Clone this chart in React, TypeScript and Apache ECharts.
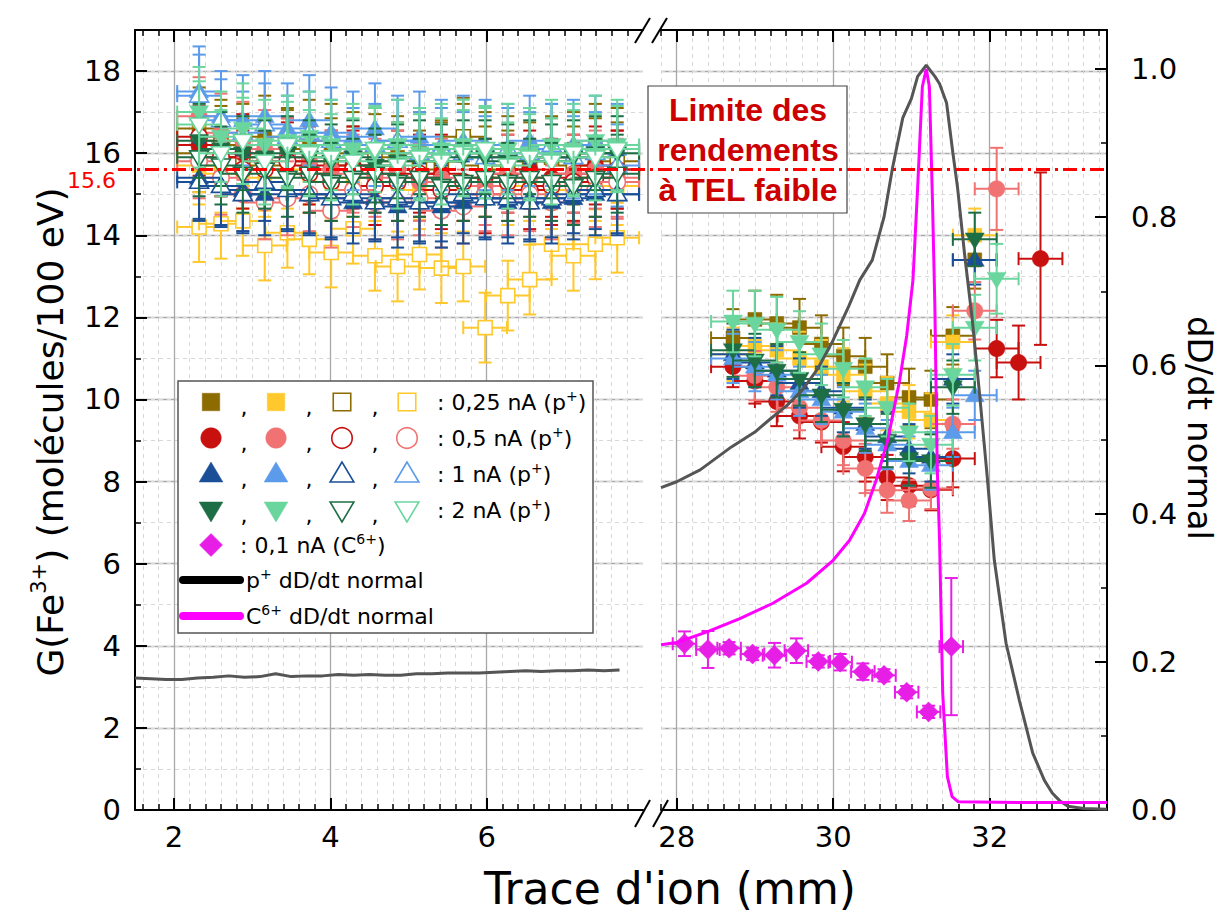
import React, { useEffect, useRef } from 'react';
import * as echarts from 'echarts';

const FONT = 'DejaVu Sans';

// ---------- x positions ----------
const xsL = [2.32, 2.60, 2.88, 3.16, 3.45, 3.73, 4.01, 4.29, 4.57, 4.86, 5.14, 5.42, 5.70, 5.98, 6.27, 6.55, 6.83, 7.11, 7.39, 7.67];
const xsR = [28.72, 29.00, 29.28, 29.57, 29.85, 30.13, 30.41, 30.69, 30.97, 31.25, 31.53, 31.81, 32.09, 32.37, 32.65];

// ---------- left panel G(Fe3+) ----------
const gL_olive_f = [16.6, 16.3, 16.2, 16.4, 16.1, 16.3, 16.2, 16.0, 16.1, 15.9, 16.0, 15.8, 16.2, 16.0, 15.9, 16.1, 15.9, 16.0, 16.2, 16.1];
const gL_yellow_f = [15.7, 15.5, 15.6, 15.4, 15.6, 15.5, 15.3, 15.4, 15.2, 15.3, 15.1, 15.2, 15.3, 15.4, 15.2, 15.3, 15.1, 15.2, 15.3, 15.2];
const gL_olive_o = [16.0, 16.2, 15.9, 15.7, 16.1, 15.8, 15.9, 15.7, 16.0, 15.8, 15.6, 15.8, 16.4, 15.7, 15.6, 15.8, 15.9, 15.7, 15.9, 15.8];
const gL_yellow_o = [14.2, 14.28, 14.35, 13.75, 14.06, 13.9, 13.58, 14.16, 13.5, 13.24, 13.53, 13.2, 13.24, 11.75, 12.53, 12.92, 13.78, 13.5, 13.78, 13.94];
const gL_red_f = [16.2, 15.9, 16.0, 15.8, 15.9, 15.7, 15.6, 15.7, 15.5, 15.6, 15.4, 15.5, 15.3, 15.4, 15.5, 15.6, 15.4, 15.5, 15.7, 15.6];
const gL_salmon_f = [16.9, 16.5, 16.3, 16.1, 15.9, 15.8, 15.6, 15.5, 15.4, 15.6, 15.3, 15.4, 15.3, 15.2, 15.5, 15.4, 15.3, 15.5, 15.6, 15.4];
const gL_red_o = [16.4, 15.9, 15.6, 15.6, 15.8, 15.5, 15.3, 15.6, 15.2, 15.3, 15.5, 15.1, 15.3, 15.0, 15.3, 15.1, 15.2, 15.3, 15.4, 15.6];
const gL_salmon_o = [15.8, 15.4, 15.0, 14.8, 14.9, 15.0, 14.6, 15.1, 14.8, 14.8, 14.9, 14.6, 14.7, 15.0, 14.9, 15.0, 14.8, 15.2, 15.1, 15.3];
const gL_blue_f = [15.4, 15.2, 15.1, 15.0, 15.1, 15.0, 14.9, 14.8, 14.9, 14.7, 14.8, 14.7, 14.8, 14.9, 14.8, 14.9, 14.8, 14.9, 15.0, 15.0];
const gL_lblue_f = [17.5, 16.9, 16.8, 16.9, 16.6, 16.8, 16.5, 16.4, 16.6, 16.3, 16.4, 16.2, 16.3, 16.2, 16.1, 16.3, 16.1, 16.2, 16.3, 16.1];
const gL_blue_o = [15.3, 15.2, 15.0, 15.3, 15.1, 15.0, 14.9, 15.0, 14.8, 14.9, 14.8, 14.8, 15.0, 14.9, 14.9, 14.8, 14.9, 15.0, 15.1, 15.0];
const gL_lblue_o = [17.4, 16.8, 16.5, 16.7, 16.4, 16.5, 16.3, 16.1, 16.2, 16.3, 16.0, 16.1, 16.0, 15.9, 16.1, 16.0, 16.2, 15.9, 16.0, 15.7];
const gL_green_f = [16.3, 16.1, 16.0, 15.9, 16.0, 15.9, 15.8, 15.9, 15.7, 15.8, 15.9, 15.8, 15.9, 15.9, 15.8, 15.9, 15.8, 15.9, 16.0, 16.0];
const gL_lgreen_f = [17.0, 16.4, 16.6, 16.2, 16.3, 16.4, 16.2, 16.1, 16.0, 16.2, 16.0, 16.1, 16.2, 16.0, 16.1, 16.0, 16.2, 16.1, 16.3, 16.2];
const gL_green_o = [15.9, 15.7, 15.5, 15.6, 15.4, 15.5, 15.3, 15.4, 15.5, 15.3, 15.4, 15.2, 15.3, 15.4, 15.3, 15.4, 15.3, 15.2, 15.4, 15.5];
const gL_lgreen_o = [16.7, 16.0, 16.3, 15.8, 16.2, 16.0, 15.9, 15.8, 16.1, 15.7, 15.9, 15.8, 16.0, 16.1, 15.7, 15.9, 15.8, 16.0, 15.9, 16.1];

// ---------- right panel G(Fe3+) ----------
const gR_olive_f = [11.5, 11.95, 11.85, 11.75, 11.35, 11.05, 10.8, 10.4, 10.05, 10.0, 11.55, 13.4, null, null, null];
const gR_yellow_f = [11.1, 11.3, 11.2, 11.0, 10.8, 10.6, 10.2, 9.9, 9.7, 9.5, 11.4, 14.0, null, null, null];
const gR_red_f = [10.8, 10.45, 9.95, 9.6, 9.45, 8.85, 8.6, 8.1, 7.9, 7.8, 8.56, null, 11.24, 10.9, 13.43];
const gR_salmon_f = [null, 10.58, 10.3, 9.8, 9.49, 9.0, 8.32, 7.79, 7.54, 7.83, 9.4, 12.16, 15.13, null, null];
const gR_blue_f = [11.1, 10.9, 10.7, 10.4, 10.2, 9.8, 9.4, 9.1, 8.8, 8.6, 10.5, 13.4, null, null, null];
const gR_lblue_f = [11.0, 10.8, 10.6, 10.2, 10.0, 9.7, 9.3, 8.9, 8.5, 8.4, 9.2, 10.1, null, null, null];
const gR_green_f = [11.2, 10.95, 10.7, 10.5, 10.1, 9.75, 9.4, 9.0, 8.55, 8.5, 10.3, 13.9, null, null, null];
const gR_lgreen_f = [11.9, 11.85, 11.7, 11.4, 11.1, 10.75, 10.3, 9.8, 9.2, 8.9, 10.6, 11.75, 12.94, null, null];
const eR_red = [0.5, 0.55, 0.6, 0.55, 0.5, 0.6, 0.6, 0.55, 0.5, 0.5, 0.7, 0, 0.7, 0.9, 2.1];
const eR_salmon = [0, 0.6, 0.6, 0.55, 0.5, 0.6, 0.6, 0.55, 0.5, 0.5, 0.6, 0.7, 1.0, 0, 0];
const eR_lgreen = [0.75, 0.8, 0.8, 0.75, 0.75, 0.7, 0.7, 0.7, 0.7, 0.7, 0.75, 0.8, 0.85, 0, 0];

// ---------- C6+ 0,1 nA ----------
const xsC = [28.10, 28.40, 28.67, 28.97, 29.25, 29.53, 29.81, 30.09, 30.38, 30.65, 30.94, 31.22, 31.51];
const gC = [4.05, 3.91, 3.94, 3.80, 3.77, 3.88, 3.62, 3.60, 3.37, 3.28, 2.87, 2.39, 3.98];
const eC = [0.3, 0.45, 0.15, 0.15, 0.3, 0.3, 0.15, 0.2, 0.2, 0.15, 0.15, 0.15, 1.67];

// ---------- dD/dt curves ----------
const pxL = [1.5, 1.7, 1.9, 2.1, 2.3, 2.5, 2.7, 2.9, 3.1, 3.3, 3.5, 3.7, 3.9, 4.1, 4.3, 4.5, 4.7, 4.9, 5.1, 5.3, 5.5, 5.7, 5.9, 6.1, 6.3, 6.5, 6.7, 6.9, 7.1, 7.3, 7.5, 7.7];
const pyL = [0.178, 0.177, 0.176, 0.176, 0.178, 0.179, 0.181, 0.179, 0.180, 0.184, 0.180, 0.181, 0.181, 0.183, 0.182, 0.183, 0.182, 0.182, 0.184, 0.184, 0.185, 0.185, 0.185, 0.186, 0.187, 0.188, 0.187, 0.188, 0.188, 0.189, 0.188, 0.189];
const pxR = [27.8, 28.0, 28.3, 28.7, 29.0, 29.2, 29.4, 29.6, 29.8, 30.0, 30.2, 30.34, 30.5, 30.65, 30.76, 30.89, 31.0, 31.08, 31.19, 31.3, 31.36, 31.45, 31.53, 31.59, 31.68, 31.78, 31.87, 31.97, 32.06, 32.21, 32.38, 32.55, 32.7, 32.8, 32.9, 33.0, 33.2, 33.5];
const pyR = [0.435, 0.443, 0.459, 0.49, 0.51, 0.528, 0.545, 0.566, 0.595, 0.634, 0.68, 0.715, 0.742, 0.80, 0.867, 0.934, 0.96, 0.99, 1.005, 0.99, 0.98, 0.954, 0.887, 0.84, 0.75, 0.66, 0.563, 0.449, 0.337, 0.225, 0.148, 0.077, 0.04, 0.023, 0.012, 0.005, 0.002, 0.001];
const cxR = [27.8, 28.0, 28.38, 28.8, 29.23, 29.66, 30.0, 30.21, 30.4, 30.55, 30.7, 30.85, 30.94, 31.02, 31.08, 31.14, 31.19, 31.23, 31.27, 31.3, 31.33, 31.36, 31.4, 31.46, 31.52, 31.6, 32.5, 33.5];
const cyR = [0.223, 0.226, 0.24, 0.258, 0.279, 0.306, 0.337, 0.364, 0.40, 0.445, 0.50, 0.58, 0.64, 0.715, 0.84, 0.976, 1.0, 0.976, 0.82, 0.68, 0.463, 0.364, 0.158, 0.045, 0.018, 0.011, 0.01, 0.01];

const LIMIT = 15.6;
const xTicksL = [2, 4, 6];
const xTicksR = [28, 30, 32];

// ---------- colours ----------
const OLIVE = '#8c6b00';
const YELLOW = '#ffc82c';
const RED = '#c8100f';
const SALMON = '#f07272';
const BLUE = '#1a4f98';
const LBLUE = '#5b9bea';
const GREEN = '#1e6e45';
const LGREEN = '#6ad69e';
const MAGENTA = '#e61ee6';

type Spec = { color: string; shape: string; filled: boolean; L: number[]; eL: number; R?: (number | null)[]; eR?: number | number[] };
const specs: Spec[] = [
  { color: OLIVE, shape: 'square', filled: true, L: gL_olive_f, eL: 1.0, R: gR_olive_f, eR: 0.7 },
  { color: YELLOW, shape: 'square', filled: true, L: gL_yellow_f, eL: 0.95, R: gR_yellow_f, eR: 0.65 },
  { color: OLIVE, shape: 'square', filled: false, L: gL_olive_o, eL: 0.95 },
  { color: YELLOW, shape: 'square', filled: false, L: gL_yellow_o, eL: 0.85 },
  { color: RED, shape: 'circle', filled: true, L: gL_red_f, eL: 0.95, R: gR_red_f, eR: eR_red },
  { color: SALMON, shape: 'circle', filled: true, L: gL_salmon_f, eL: 0.95, R: gR_salmon_f, eR: eR_salmon },
  { color: RED, shape: 'circle', filled: false, L: gL_red_o, eL: 0.95 },
  { color: SALMON, shape: 'circle', filled: false, L: gL_salmon_o, eL: 0.9 },
  { color: BLUE, shape: 'tri', filled: true, L: gL_blue_f, eL: 1.0, R: gR_blue_f, eR: 0.6 },
  { color: LBLUE, shape: 'tri', filled: true, L: gL_lblue_f, eL: 1.1, R: gR_lblue_f, eR: 0.6 },
  { color: BLUE, shape: 'tri', filled: false, L: gL_blue_o, eL: 0.95 },
  { color: LBLUE, shape: 'tri', filled: false, L: gL_lblue_o, eL: 1.0 },
  { color: GREEN, shape: 'dtri', filled: true, L: gL_green_f, eL: 0.9, R: gR_green_f, eR: 0.65 },
  { color: LGREEN, shape: 'dtri', filled: true, L: gL_lgreen_f, eL: 1.1, R: gR_lgreen_f, eR: eR_lgreen },
  { color: GREEN, shape: 'dtri', filled: false, L: gL_green_o, eL: 0.95 },
  { color: LGREEN, shape: 'dtri', filled: false, L: gL_lgreen_o, eL: 1.05 },
];

// minor tick positions (every 0.2 mm) for each broken-axis segment
function stepValues(from: number, to: number, step: number) {
  const out: number[] = [];
  for (let v = from; v <= to + 1e-9; v += step) out.push(Math.round(v * 100) / 100);
  return out;
}
const minorL = stepValues(1.6, 7.8, 0.2);
const minorR = stepValues(27.8, 33.4, 0.2);

function marker(shape: string, cx: number, cy: number, color: string, filled: boolean, k = 1, z?: number): any {
  const style: any = { fill: filled ? color : '#ffffff', stroke: color, lineWidth: filled ? 0.5 : 1.6 };
  let el: any;
  if (shape === 'square') {
    const s = 14 * k;
    el = { type: 'rect', shape: { x: cx - s / 2, y: cy - s / 2, width: s, height: s }, style };
  } else if (shape === 'circle') {
    el = { type: 'circle', shape: { cx, cy, r: 8.2 * k }, style };
  } else if (shape === 'tri') {
    const w = 19 * k, h = 16 * k;
    el = { type: 'polygon', shape: { points: [[cx, cy - h * 0.6], [cx - w / 2, cy + h * 0.4], [cx + w / 2, cy + h * 0.4]] }, style };
  } else if (shape === 'dtri') {
    const w = 19 * k, h = 16 * k;
    el = { type: 'polygon', shape: { points: [[cx, cy + h * 0.6], [cx - w / 2, cy - h * 0.4], [cx + w / 2, cy - h * 0.4]] }, style };
  } else {
    const d = 10 * k;
    el = { type: 'polygon', shape: { points: [[cx, cy - d], [cx + d, cy], [cx, cy + d], [cx - d, cy]] }, style };
  }
  if (z !== undefined) el.z = z;
  return el;
}

function makeRender(shape: string, color: string, filled: boolean) {
  return (_params: any, api: any) => {
    const x = api.value(0), y = api.value(1), ey = api.value(2), ex = api.value(3);
    const c = api.coord([x, y]);
    const t = api.coord([x, y + ey]);
    const b = api.coord([x, y - ey]);
    const l = api.coord([x - ex, y]);
    const r = api.coord([x + ex, y]);
    const cw = 6.5;
    const st = { stroke: color, lineWidth: 2, fill: null };
    const ln = (x1: number, y1: number, x2: number, y2: number) => ({ type: 'line', shape: { x1, y1, x2, y2 }, style: st });
    const children: any[] = [];
    if (ey > 0) {
      children.push(ln(c[0], t[1], c[0], b[1]), ln(c[0] - cw, t[1], c[0] + cw, t[1]), ln(c[0] - cw, b[1], c[0] + cw, b[1]));
    }
    if (ex > 0) {
      children.push(ln(l[0], c[1], r[0], c[1]), ln(l[0], c[1] - cw, l[0], c[1] + cw), ln(r[0], c[1] - cw, r[0], c[1] + cw));
    }
    children.push(marker(shape, c[0], c[1], color, filled, 1));
    return { type: 'group', children };
  };
}

const AXC = '#000';
const MAJ = { color: '#a8a8a8', width: 1.3 };
const MIN = { color: '#d8d8d8', width: 1, type: [4, 4] as any };
const TICKFONT = 29;

function xAxesFor(grid: number, min: number, max: number, majors: number[], minors: number[]) {
  const base = { gridIndex: grid, type: 'value', min, max };
  return [
    {
      ...base, position: 'bottom',
      axisLine: { show: true, onZero: false, lineStyle: { color: AXC, width: 2 } },
      axisTick: { show: true, inside: true, length: 6, customValues: minors, lineStyle: { color: AXC, width: 1.5 } },
      axisLabel: { show: true, customValues: majors, fontSize: TICKFONT, color: '#000', fontFamily: FONT, margin: 12, formatter: (v: number) => String(Math.round(v)) },
      splitLine: { show: true, lineStyle: MIN },
    },
    {
      ...base, position: 'bottom',
      axisLine: { show: false, onZero: false },
      axisTick: { show: true, inside: true, length: 12, customValues: majors, lineStyle: { color: AXC, width: 2 } },
      axisLabel: { show: false },
      splitLine: { show: true, lineStyle: MAJ },
    },
    {
      ...base, position: 'top',
      axisLine: { show: true, onZero: false, lineStyle: { color: AXC, width: 2 } },
      axisTick: { show: true, inside: true, length: 6, customValues: minors, lineStyle: { color: AXC, width: 1.5 } },
      axisLabel: { show: false }, splitLine: { show: false },
    },
    {
      ...base, position: 'top',
      axisLine: { show: false, onZero: false },
      axisTick: { show: true, inside: true, length: 12, customValues: majors, lineStyle: { color: AXC, width: 2 } },
      axisLabel: { show: false }, splitLine: { show: false },
    },
  ];
}

const yAxes: any[] = [
  // 0: G major, left grid
  {
    gridIndex: 0, type: 'value', min: 0, max: 19, interval: 2, position: 'left',
    axisLine: { show: true, onZero: false, lineStyle: { color: AXC, width: 2 } },
    axisTick: { show: true, inside: true, length: 12, lineStyle: { color: AXC, width: 2 } },
    axisLabel: { show: true, fontSize: TICKFONT, color: '#000', fontFamily: FONT, margin: 14, formatter: (v: number) => (v <= 18 && v % 2 === 0 ? String(v) : '') },
    splitLine: { show: true, showMinLine: false, showMaxLine: false, lineStyle: MAJ },
  },
  // 1: G minor, left grid
  {
    gridIndex: 0, type: 'value', min: 0, max: 19, interval: 1, position: 'left',
    axisLine: { show: false, onZero: false },
    axisTick: { show: true, inside: true, length: 6, lineStyle: { color: AXC, width: 1.5 } },
    axisLabel: { show: false },
    splitLine: { show: true, showMinLine: false, showMaxLine: false, lineStyle: MIN },
  },
  // 2: dD/dt hidden, left grid
  { gridIndex: 0, type: 'value', min: 0, max: 1.0526, show: false, splitLine: { show: false } },
  // 3: G major, right grid (grid lines only)
  {
    gridIndex: 1, type: 'value', min: 0, max: 19, interval: 2, position: 'left',
    axisLine: { show: false, onZero: false }, axisTick: { show: false }, axisLabel: { show: false },
    splitLine: { show: true, showMinLine: false, showMaxLine: false, lineStyle: MAJ },
  },
  // 4: G minor, right grid
  {
    gridIndex: 1, type: 'value', min: 0, max: 19, interval: 1, position: 'left',
    axisLine: { show: false, onZero: false }, axisTick: { show: false }, axisLabel: { show: false },
    splitLine: { show: true, showMinLine: false, showMaxLine: false, lineStyle: MIN },
  },
  // 5: dD/dt major, right
  {
    gridIndex: 1, type: 'value', min: 0, max: 1.0526, interval: 0.2, position: 'right',
    axisLine: { show: true, onZero: false, lineStyle: { color: AXC, width: 2 } },
    axisTick: { show: true, inside: true, length: 12, lineStyle: { color: AXC, width: 2 } },
    axisLabel: {
      show: true, fontSize: TICKFONT, color: '#000', fontFamily: FONT, margin: 24,
      formatter: (v: number) => (Math.abs(v * 5 - Math.round(v * 5)) < 1e-6 && v < 1.01 ? v.toFixed(1) : ''),
    },
    splitLine: { show: false },
  },
  // 6: dD/dt minor, right
  {
    gridIndex: 1, type: 'value', min: 0, max: 1.0526, interval: 0.1, position: 'right',
    axisLine: { show: false, onZero: false },
    axisTick: { show: true, inside: true, length: 6, lineStyle: { color: AXC, width: 1.5 } },
    axisLabel: { show: false }, splitLine: { show: false },
  },
];

function buildSeries() {
  const series: any[] = [];
  specs.forEach((s) => {
    series.push({
      type: 'custom', xAxisIndex: 0, yAxisIndex: 0, z: 2, silent: true,
      renderItem: makeRender(s.shape, s.color, s.filled),
      encode: { x: 0, y: 1 },
      data: xsL.map((x, i) => [x, s.L[i], s.eL, 0.28]),
    });
    if (s.R) {
      const data: number[][] = [];
      s.R.forEach((v, i) => {
        if (v === null) return;
        const e = typeof s.eR === 'number' ? s.eR : (s.eR as number[])[i];
        data.push([xsR[i], v, e, 0.28]);
      });
      series.push({
        type: 'custom', xAxisIndex: 4, yAxisIndex: 3, z: 2, silent: true,
        renderItem: makeRender(s.shape, s.color, s.filled),
        encode: { x: 0, y: 1 }, data,
      });
    }
  });
  series.push({
    type: 'custom', xAxisIndex: 4, yAxisIndex: 3, z: 2, silent: true,
    renderItem: makeRender('diamond', MAGENTA, true),
    encode: { x: 0, y: 1 },
    data: xsC.map((x, i) => [x, gC[i], eC[i], 0.15]),
  });
  series.push({
    type: 'line', xAxisIndex: 0, yAxisIndex: 2, z: 3, showSymbol: false, silent: true,
    lineStyle: { color: '#555555', width: 3 },
    data: pxL.map((x, i) => [x, pyL[i]]),
  });
  series.push({
    type: 'line', xAxisIndex: 4, yAxisIndex: 5, z: 3, showSymbol: false, silent: true,
    lineStyle: { color: '#555555', width: 3 },
    data: pxR.map((x, i) => [x, pyR[i]]),
  });
  series.push({
    type: 'line', xAxisIndex: 4, yAxisIndex: 5, z: 4, showSymbol: false, silent: true,
    lineStyle: { color: '#ff00ff', width: 3 },
    data: cxR.map((x, i) => [x, cyR[i]]),
  });
  return series;
}

function richText(size: number, supSize: number, color: string) {
  return {
    a: { fontSize: size, fontFamily: FONT, fill: color, lineHeight: size * 1.2 },
    s: { fontSize: supSize, fontFamily: FONT, fill: color, lineHeight: supSize * 1.1, verticalAlign: 'top' },
  };
}

function buildGraphics(redY: number, redX1: number) {
  const g: any[] = [];
  // axis titles
  g.push({
    type: 'text', x: 50, y: 432, rotation: Math.PI / 2, z: 120,
    style: { text: '{a|G(Fe}{s|3+}{a|) (molécules/100 eV)}', rich: richText(36, 21, '#000'), align: 'center', verticalAlign: 'middle' },
  });
  g.push({
    type: 'text', x: 1200, y: 428, rotation: -Math.PI / 2, z: 120,
    style: { text: 'dD/dt normal', fontSize: 34, fontFamily: FONT, fill: '#000', align: 'center', verticalAlign: 'middle' },
  });
  g.push({
    type: 'text', x: 670, y: 888, z: 120,
    style: { text: "Trace d'ion (mm)", fontSize: 44, fontFamily: FONT, fill: '#000', align: 'center', verticalAlign: 'middle' },
  });
  // break marks
  const brk = [[635, 43, 650, 18], [652, 43, 667, 18], [635, 827, 650, 800], [653, 827, 668, 800]];
  brk.forEach((b) => g.push({ type: 'line', z: 120, shape: { x1: b[0], y1: b[1], x2: b[2], y2: b[3] }, style: { stroke: '#000', lineWidth: 2 } }));
  // annotation box
  g.push({ type: 'rect', z: 40, shape: { x: 648, y: 86, width: 199, height: 127 }, style: { fill: '#fff', stroke: '#444', lineWidth: 1.2 } });
  const ann = ['Limite des', 'rendements', 'à TEL faible'];
  ann.forEach((t, i) => g.push({
    type: 'text', z: 41, x: 748, y: 110 + i * 40,
    style: { text: t, fontSize: 32, fontWeight: 'bold', fontFamily: 'Liberation Sans', fill: '#cc0000', align: 'center', verticalAlign: 'middle' },
  }));
  // red limit line
  g.push({ type: 'line', z: 50, shape: { x1: 118, y1: redY, x2: redX1, y2: redY }, style: { stroke: '#ff0000', lineWidth: 3, lineDash: [14, 5, 3, 5] } });
  g.push({ type: 'text', z: 120, x: 116, y: redY + 11, style: { text: String(LIMIT), fontSize: 22, fontFamily: FONT, fill: '#ff0000', align: 'right', verticalAlign: 'middle' } });
  // legend
  g.push({ type: 'rect', z: 100, shape: { x: 178, y: 381, width: 415, height: 252 }, style: { fill: '#fff', stroke: '#555', lineWidth: 1.5 } });
  const rows = [
    { y: 402, shape: 'square', cols: [OLIVE, YELLOW, OLIVE, YELLOW], text: '{a|: 0,25 nA (p}{s|+}{a|)}' },
    { y: 438, shape: 'circle', cols: [RED, SALMON, RED, SALMON], text: '{a|: 0,5 nA (p}{s|+}{a|)}' },
    { y: 474, shape: 'tri', cols: [BLUE, LBLUE, BLUE, LBLUE], text: '{a|: 1 nA (p}{s|+}{a|)}' },
    { y: 510, shape: 'dtri', cols: [GREEN, LGREEN, GREEN, LGREEN], text: '{a|: 2 nA (p}{s|+}{a|)}' },
  ];
  const colX = [211, 276, 342, 407];
  rows.forEach((r) => {
    r.cols.forEach((c, j) => {
      g.push(marker(r.shape, colX[j], r.y, c, j < 2, 1.25, 101));
      if (j < 3) g.push({ type: 'text', z: 101, x: colX[j] + 33, y: r.y + 5, style: { text: ',', fontSize: 22, fontFamily: FONT, fill: '#000', align: 'center', verticalAlign: 'middle' } });
    });
    g.push({ type: 'text', z: 101, x: 437, y: r.y, style: { text: r.text, rich: richText(22, 14, '#000'), align: 'left', verticalAlign: 'middle' } });
  });
  g.push(marker('diamond', 211, 545, MAGENTA, true, 1.15, 101));
  g.push({ type: 'text', z: 101, x: 240, y: 545, style: { text: '{a|: 0,1 nA (C}{s|6+}{a|)}', rich: richText(22, 14, '#000'), align: 'left', verticalAlign: 'middle' } });
  g.push({ type: 'line', z: 101, shape: { x1: 183, y1: 580, x2: 240, y2: 580 }, style: { stroke: '#000', lineWidth: 8, lineCap: 'round' } });
  g.push({ type: 'text', z: 101, x: 246, y: 580, style: { text: '{a|p}{s|+}{a| dD/dt normal}', rich: richText(22, 14, '#000'), align: 'left', verticalAlign: 'middle' } });
  g.push({ type: 'line', z: 101, shape: { x1: 183, y1: 616, x2: 240, y2: 616 }, style: { stroke: '#ff00ff', lineWidth: 8, lineCap: 'round' } });
  g.push({ type: 'text', z: 101, x: 246, y: 616, style: { text: '{a|C}{s|6+}{a| dD/dt normal}', rich: richText(22, 14, '#000'), align: 'left', verticalAlign: 'middle' } });
  return g;
}

export default function App() {
  const ref = useRef<HTMLDivElement>(null);
  useEffect(() => {
    if (!ref.current) return;
    const chart = echarts.init(ref.current, null, { renderer: 'svg' });
    const option: any = {
      animation: false,
      backgroundColor: '#ffffff',
      textStyle: { fontFamily: FONT },
      grid: [
        { left: 135, top: 30, width: 508, height: 780, containLabel: false },
        { left: 661, top: 30, width: 446, height: 780, containLabel: false },
      ],
      xAxis: [...xAxesFor(0, 1.5, 8.0, xTicksL, minorL), ...xAxesFor(1, 27.8, 33.5, xTicksR, minorR)],
      yAxis: yAxes,
      series: buildSeries(),
    };
    chart.setOption(option);
    const redY = chart.convertToPixel({ yAxisIndex: 0 }, LIMIT) as unknown as number;
    const redX1 = chart.convertToPixel({ xAxisIndex: 4 }, 33.5) as unknown as number;
    chart.setOption({ graphic: buildGraphics(redY, redX1) });
    return () => chart.dispose();
  }, []);
  return <div ref={ref} style={{ position: 'absolute', left: 0, top: 0, width: 1224, height: 921, background: '#fff' }} />;
}
